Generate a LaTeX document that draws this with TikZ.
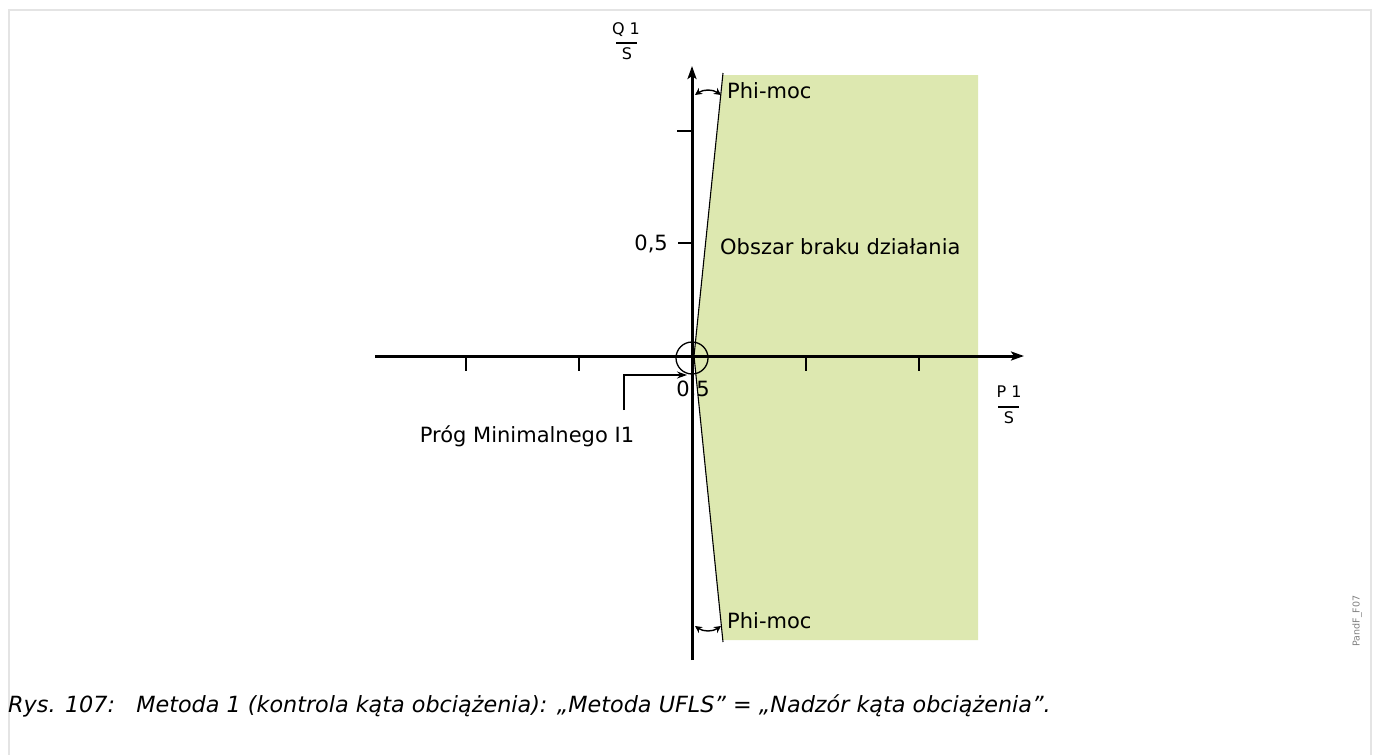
\documentclass[tikz,border=0pt]{standalone}
\usepackage{fontspec}
\setmainfont{DejaVu Sans}
\usetikzlibrary{arrows.meta}
\definecolor{zone}{RGB}{221,232,176}
\definecolor{framegray}{RGB}{228,228,228}
\begin{document}
\begin{tikzpicture}[x=1pt,y=-1pt,
  axis/.style={line width=3pt,-{Stealth[length=13pt,width=9pt,inset=3pt]}},
  tickmark/.style={line width=1.4pt},
  slant/.style={line width=1.1pt},
  lbl/.style={font=\fontsize{21}{25}\selectfont,inner sep=0pt},
  small/.style={font=\fontsize{16}{19}\selectfont,inner sep=0pt},
  phiarrow/.style={line width=1.4pt,{Stealth[length=7pt,width=7pt]}-{Stealth[length=7pt,width=7pt]}}]
\useasboundingbox (0,0) rectangle (1375,755);
\fill[white] (0,0) rectangle (1375,755);
\draw[framegray,line width=2pt] (9,755) -- (9,10) -- (1371,10) -- (1371,755);
% zone
\coordinate (apex) at (694,356);
\coordinate (tl) at (723,75);
\coordinate (tr) at (978,75);
\coordinate (br) at (978,640);
\coordinate (bl) at (723,640);
\fill[zone] (apex) -- (tl) -- (tr) -- (br) -- (bl) -- cycle;
\coordinate (slt) at (723,73);
\coordinate (slb) at (723,642);
\draw[slant] (apex) -- (slt);
\draw[slant] (apex) -- (slb);
% axes
\coordinate (yb) at (692,660);
\coordinate (yt) at (692,66);
\coordinate (xl) at (375,356);
\coordinate (xr) at (1024,356);
\draw[axis] (yb) -- (yt);
\draw[axis] (xl) -- (xr);
% ticks
\foreach \x in {466,579,806,919} \draw[tickmark] (\x,356) -- (\x,371);
\draw[tickmark] (677,131) -- (692,131);
\draw[tickmark] (678,243) -- (692,243);
% origin circle
\node[draw,circle,line width=1.3pt,minimum size=32pt,inner sep=0pt] (circ) at (692,358) {};
% labels
\node[lbl,anchor=east] (v05) at (668,244) {0,5};
\node[lbl] (h05) at (693,390) {0,5};
\node[lbl,anchor=west] (zonelbl) at (720,247) {Obszar braku działania};
\node[lbl,anchor=west] (phit) at (727,91) {Phi-moc};
\node[lbl,anchor=west] (phib) at (727,621) {Phi-moc};
\node[lbl] (prog) at (527,436) {Próg Minimalnego I1};
% prog arrow
\coordinate (pa) at (624,410);
\coordinate (pb) at (624,375);
\coordinate (pc) at (687,375);
\draw[line width=1.3pt,-{Stealth[length=10pt,width=7pt]}] (pa) -- (pb) -- (pc);
% phi arrows
\coordinate (a1) at (695,95);
\coordinate (a2) at (721,95);
\draw[phiarrow] (a1) to[bend left=35] (a2);
\coordinate (b1) at (695,626);
\coordinate (b2) at (721,626);
\draw[phiarrow] (b1) to[bend right=35] (b2);
% fractions
\node[small] (q1) at (626,30) {Q 1};
\node[small] (qs) at (627,54) {S};
\draw[line width=1.2pt] (616,43) -- (637,43);
\node[small] (p1) at (1009,392) {P 1};
\node[small] (ps) at (1009,418) {S};
\draw[line width=1.2pt] (998,407) -- (1019,407);
% code
\node[font=\fontsize{9.5}{10}\selectfont,text=gray,rotate=90,inner sep=0pt] (code) at (1357,621) {PandF\_F07};
% caption
\node[font=\itshape\fontsize{22.3}{26}\selectfont,anchor=west,inner sep=0pt] (cap) at (8,706) {Rys. 107:\ \ \ Metoda 1 (kontrola kąta obciążenia): „Metoda UFLS” = „Nadzór kąta obciążenia”.};
\end{tikzpicture}
\end{document}
